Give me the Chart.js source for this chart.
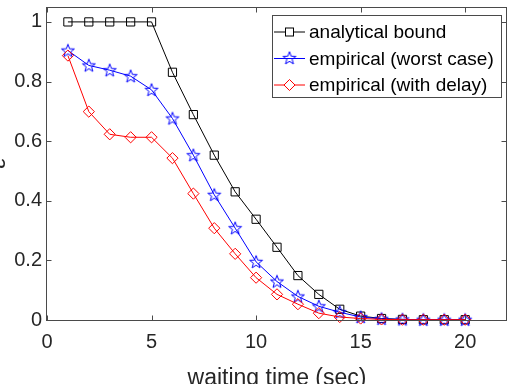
<!DOCTYPE html>
<html>
<head>
<meta charset="utf-8">
<script src="https://cdn.jsdelivr.net/npm/chart.js@4/dist/chart.umd.min.js"></script>
<style>
html, body { margin: 0; padding: 0; background: #fff; }
</style>
</head>
<body>
<canvas id="epsChart" width="518" height="384"></canvas>
<script>
// values
const waitTime = [1,2,3,4,5,6,7,8,9,10,11,12,13,14,15,16,17,18,19,20];
const analyticalBound = [1,1,1,1,1,0.831,0.689,0.553,0.43,0.338,0.244,0.149,0.086,0.036,0.013,0.005,0.002,0.001,0.001,0.001];
const empiricalWorst = [0.904,0.854,0.838,0.818,0.772,0.676,0.553,0.42,0.308,0.195,0.129,0.079,0.046,0.026,0.01,0.004,0.002,0.001,0.001,0.001];
const empiricalDelay = [0.887,0.699,0.623,0.613,0.613,0.543,0.424,0.308,0.222,0.142,0.086,0.053,0.023,0.01,0.005,0.002,0.001,0.001,0.001,0.001];
const xTicks = [0,5,10,15,20];
const yTicks = [0,0.2,0.4,0.6,0.8,1];
const seriesNames = ['analytical bound','empirical (worst case)','empirical (with delay)'];

const FONT = "'Liberation Sans', Arial, Helvetica, sans-serif";
const AXIS = '#4a4a4a';
const TEXT = '#262626';

function toPoints(ys){
  return waitTime.map((t,i) => ({x: t, y: ys[i]}));
}

// five pointed star marker (matlab 'p')
function makeStar(color){
  const c = document.createElement('canvas');
  c.width = 16; c.height = 16;
  const g = c.getContext('2d');
  g.strokeStyle = color;
  g.lineWidth = 1;
  g.beginPath();
  for(let i=0;i<10;i++){
    const r = i%2===0 ? 6.8 : 2.8;
    const a = -Math.PI/2 + i*Math.PI/5;
    const px = 8 + r*Math.cos(a), py = 8.5 + r*Math.sin(a);
    if(i===0) g.moveTo(px,py); else g.lineTo(px,py);
  }
  g.closePath();
  g.stroke();
  return c;
}
const starMarker = makeStar('#0000ff');

const boxPlugin = {
  id: 'matlabBox',
  afterDraw(chart){
    const {ctx, chartArea: a, scales: {x, y}} = chart;
    const L = Math.round(a.left)-0.5, R = Math.round(a.right)-0.5;
    const T = Math.round(a.top)+0.5, B = Math.round(a.bottom)+0.5;
    ctx.save();
    ctx.strokeStyle = AXIS;
    ctx.lineWidth = 1;
    ctx.strokeRect(L, T, R-L, B-T);
    ctx.beginPath();
    xTicks.forEach(v => {
      const px = Math.round(x.getPixelForValue(v))+0.5;
      ctx.moveTo(px,B); ctx.lineTo(px,B-5);
      ctx.moveTo(px,T); ctx.lineTo(px,T+5);
    });
    yTicks.forEach(v => {
      const py = Math.round(y.getPixelForValue(v))+0.5;
      ctx.moveTo(L,py); ctx.lineTo(L+5,py);
      ctx.moveTo(R,py); ctx.lineTo(R-5,py);
    });
    ctx.stroke();

    // axis titles
    ctx.fillStyle = TEXT;
    ctx.font = '23px ' + FONT;
    ctx.textAlign = 'center';
    ctx.textBaseline = 'alphabetic';
    ctx.fillText('waiting time (sec)', (a.left+a.right)/2, 385);
    ctx.save();
    ctx.translate(5, (a.top+a.bottom)/2);
    ctx.rotate(-Math.PI/2);
    ctx.fillText('\u03b5', 0, 0);
    ctx.restore();

    // legend
    const lx = 272.5, ly = 15.5, lw = 229, lh = 82;
    ctx.fillStyle = '#fff';
    ctx.fillRect(lx, ly, lw, lh);
    ctx.strokeStyle = AXIS;
    ctx.strokeRect(lx, ly, lw, lh);
    const rows = [32, 58.5, 85];
    chart.data.datasets.forEach((ds, i) => {
      const ry = rows[i];
      ctx.strokeStyle = ds.borderColor;
      ctx.lineWidth = 1;
      ctx.beginPath();
      ctx.moveTo(274, ry); ctx.lineTo(305, ry);
      ctx.stroke();
      ctx.fillStyle = '#fff';
      if(ds.pointStyle === 'rect'){
        ctx.fillRect(285.5, ry-4, 8, 8);
        ctx.strokeRect(285.5, ry-4, 8, 8);
      } else if(ds.pointStyle === 'rectRot'){
        ctx.beginPath();
        ctx.moveTo(289.5, ry-5.5); ctx.lineTo(295, ry);
        ctx.lineTo(289.5, ry+5.5); ctx.lineTo(284, ry);
        ctx.closePath(); ctx.fill(); ctx.stroke();
      } else {
        ctx.drawImage(ds.pointStyle, 289.5-8, ry-8.5);
      }
      ctx.fillStyle = '#000';
      ctx.font = '19px ' + FONT;
      ctx.textAlign = 'left';
      ctx.textBaseline = 'middle';
      ctx.fillText(seriesNames[i], 309, ry+1);
    });
    ctx.restore();
  }
};

const ctx = document.getElementById('epsChart');

new Chart(ctx, {
  type: 'line',
  data: {
    datasets: [{
      label: seriesNames[0],
      data: toPoints(analyticalBound),
      borderColor: '#000000',
      backgroundColor: 'rgba(0,0,0,0)',
      borderWidth: 1,
      pointStyle: 'rect',
      pointRadius: 5.8,
      pointBorderWidth: 1,
      pointBorderColor: '#000000',
      order: 3,
      clip: false
    },{
      label: seriesNames[1],
      data: toPoints(empiricalWorst),
      borderColor: '#0000ff',
      backgroundColor: 'rgba(0,0,0,0)',
      borderWidth: 1,
      pointStyle: starMarker,
      pointRadius: 6,
      order: 2,
      clip: false
    },{
      label: seriesNames[2],
      data: toPoints(empiricalDelay),
      borderColor: '#ff0000',
      backgroundColor: 'rgba(0,0,0,0)',
      borderWidth: 1,
      pointStyle: 'rectRot',
      pointRadius: 5.6,
      pointBorderWidth: 1,
      pointBorderColor: '#ff0000',
      order: 1,
      clip: false
    }]
  },
  options: {
    responsive: false,
    animation: false,
    devicePixelRatio: 1,
    layout: { padding: { left: 0, right: 11, top: 4, bottom: 0 } },
    plugins: { legend: { display: false }, tooltip: { enabled: false } },
    elements: { line: { tension: 0 } },
    scales: {
      x: {
        type: 'linear',
        min: 0, max: 22,
        afterBuildTicks: s => { s.ticks = xTicks.map(v => ({value: v})); },
        afterFit: s => { s.height = 64; s.paddingLeft = 0; s.paddingRight = 0; },
        grid: { display: false, drawTicks: false },
        border: { display: false },
        ticks: { padding: 10, color: TEXT, font: { family: FONT, size: 20 }, callback: v => String(v), maxRotation: 0 }
      },
      y: {
        min: 0, max: 1.05,
        afterBuildTicks: s => { s.ticks = yTicks.map(v => ({value: v})); },
        afterFit: s => { s.width = 47; s.paddingTop = 0; s.paddingBottom = 0; },
        grid: { display: false, drawTicks: false },
        border: { display: false },
        ticks: { padding: 5, color: TEXT, font: { family: FONT, size: 20 }, callback: v => String(v) }
      }
    }
  },
  plugins: [boxPlugin]
});
</script>
</body>
</html>
